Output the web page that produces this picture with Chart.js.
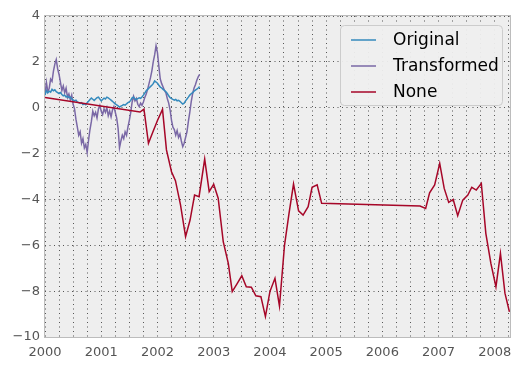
<!DOCTYPE html>
<html>
<head>
<meta charset="utf-8">
<script src="https://cdn.jsdelivr.net/npm/chart.js@4.4.1/dist/chart.umd.min.js"></script>
<style>
  html, body { margin: 0; padding: 0; background: #ffffff; }
  #wrap { width: 522px; height: 369px; position: relative; }
</style>
</head>
<body>
<div id="wrap"><canvas id="chart"></canvas></div>
<script>
// =============================
// DATOS
// =============================
const yearTicks = [2000, 2001, 2002, 2003, 2004, 2005, 2006, 2007, 2008];
const valueTicks = [-10, -8, -6, -4, -2, 0, 2, 4];
const seriesNames = ["Original", "Transformed", "None"];

// fechas (años decimales) de las series diarias
const dailyDates = [
  2000.000, 2000.025, 2000.050, 2000.075, 2000.100, 2000.125, 2000.150, 2000.175, 2000.200, 2000.225,
  2000.250, 2000.275, 2000.300, 2000.325, 2000.350, 2000.375, 2000.400, 2000.425, 2000.450, 2000.475,
  2000.500, 2000.525, 2000.550, 2000.575, 2000.600, 2000.625, 2000.650, 2000.675, 2000.700, 2000.725,
  2000.750, 2000.775, 2000.800, 2000.825, 2000.850, 2000.875, 2000.900, 2000.925, 2000.950, 2000.975,
  2001.000, 2001.025, 2001.050, 2001.075, 2001.100, 2001.125, 2001.150, 2001.175, 2001.200, 2001.225,
  2001.250, 2001.275, 2001.300, 2001.325, 2001.350, 2001.375, 2001.400, 2001.425, 2001.450, 2001.475,
  2001.500, 2001.525, 2001.550, 2001.575, 2001.600, 2001.625, 2001.650, 2001.675, 2001.700, 2001.725,
  2001.750, 2001.775, 2001.800, 2001.825, 2001.850, 2001.875, 2001.900, 2001.925, 2001.950, 2001.975,
  2002.000, 2002.025, 2002.050, 2002.075, 2002.100, 2002.125, 2002.150, 2002.175, 2002.200, 2002.225,
  2002.250, 2002.275, 2002.300, 2002.325, 2002.350, 2002.375, 2002.400, 2002.425, 2002.450, 2002.475,
  2002.500, 2002.525, 2002.550, 2002.575, 2002.600, 2002.625, 2002.650, 2002.675, 2002.700, 2002.725,
  2002.750
];

const originalValues = [
  0.55, 0.75, 0.65, 0.72, 0.68, 0.80, 0.74, 0.78, 0.70, 0.66,
  0.62, 0.66, 0.58, 0.52, 0.55, 0.47, 0.50, 0.44, 0.46, 0.38,
  0.34, 0.30, 0.33, 0.25, 0.22, 0.19, 0.22, 0.14, 0.17, 0.13,
  0.22, 0.28, 0.36, 0.42, 0.37, 0.32, 0.38, 0.44, 0.46, 0.38,
  0.30, 0.36, 0.42, 0.38, 0.46, 0.43, 0.38, 0.33, 0.28, 0.22,
  0.17, 0.12, 0.08, 0.03, 0.07, 0.10, 0.14, 0.11, 0.17, 0.22,
  0.25, 0.32, 0.43, 0.46, 0.38, 0.35, 0.40, 0.43, 0.41, 0.47,
  0.55, 0.64, 0.74, 0.80, 0.86, 0.92, 0.98, 1.05, 1.17, 1.12,
  1.07, 0.98, 0.90, 0.86, 0.80, 0.76, 0.70, 0.62, 0.52, 0.44,
  0.40, 0.36, 0.33, 0.36, 0.30, 0.32, 0.28, 0.22, 0.16, 0.20,
  0.30, 0.38, 0.46, 0.55, 0.61, 0.66, 0.72, 0.77, 0.81, 0.86,
  0.92
];

const transformedValues = [
  0.55, 1.10, 0.70, 0.85, 1.25, 1.15, 1.60, 1.90, 2.10, 1.70,
  1.45, 1.10, 0.75, 0.95, 0.65, 0.85, 0.45, 0.60, 0.35, 0.55,
  0.15, -0.05, -0.50, -0.85, -1.20, -1.05, -1.55, -1.35, -1.75, -1.60,
  -1.95, -1.40, -0.95, -0.60, -0.15, -0.35, -0.20, -0.45, -0.05, 0.10,
  -0.15, -0.30, -0.05, -0.20, 0.00, -0.35, -0.15, -0.40, -0.10, 0.05,
  -0.20, -0.45, -0.90, -1.75, -1.45, -1.20, -1.35, -1.05, -1.20, -0.85,
  -0.55, -0.20, 0.25, 0.50, 0.30, 0.40, 0.15, 0.05, 0.20, 0.10,
  0.25, 0.45, 0.60, 0.80, 1.05, 1.30, 1.60, 2.00, 2.30, 2.70,
  2.40, 1.80, 1.25, 1.05, 0.90, 0.75, 0.65, 0.40, 0.20, -0.10,
  -0.55, -0.85, -0.95, -1.20, -1.00, -1.30, -1.15, -1.45, -1.70, -1.55,
  -1.30, -1.05, -0.60, -0.20, 0.25, 0.60, 0.85, 1.00, 1.20, 1.35,
  1.45
];

// serie mensual (con huecos)
const monthlyDates = [
  2000.00, 2001.69, 2001.76, 2001.84, 2001.92, 2002.00, 2002.09, 2002.16, 2002.25, 2002.32,
  2002.41, 2002.50, 2002.58, 2002.66, 2002.74, 2002.84, 2002.92, 2003.00, 2003.08, 2003.17,
  2003.26, 2003.33, 2003.42, 2003.50, 2003.58, 2003.67, 2003.75, 2003.84, 2003.92, 2004.00,
  2004.09, 2004.17, 2004.26, 2004.34, 2004.42, 2004.51, 2004.59, 2004.68, 2004.75, 2004.84,
  2004.92, 2006.67, 2006.77, 2006.84, 2006.93, 2007.02, 2007.10, 2007.18, 2007.26, 2007.34,
  2007.43, 2007.52, 2007.59, 2007.67, 2007.76, 2007.84, 2007.93, 2008.02, 2008.10, 2008.18,
  2008.26
];

const noneValues = [
  0.45, -0.19, -0.06, -1.55, -1.05, -0.56, -0.07, -1.84, -2.79, -3.18,
  -4.24, -5.62, -4.90, -3.81, -3.88, -2.24, -3.66, -3.34, -3.95, -5.84,
  -6.79, -8.02, -7.66, -7.33, -7.81, -7.83, -8.20, -8.24, -9.11, -8.02,
  -7.44, -8.65, -5.99, -4.61, -3.33, -4.50, -4.68, -4.32, -3.47, -3.36,
  -4.17, -4.29, -4.39, -3.71, -3.37, -2.43, -3.52, -4.13, -4.00, -4.71,
  -4.03, -3.81, -3.47, -3.59, -3.30, -5.48, -6.79, -7.81, -6.35, -8.09,
  -8.90
];

const seriesColors = ["#348ABD", "#7A68A6", "#A60628"];

const toPoints = (xs, ys) => xs.map((x, i) => ({ x: x, y: ys[i] }));
const minusSign = (v) => (v < 0 ? "\u2212" + Math.abs(v) : String(v));

// =============================
// PLUGINS: fondo, marco y leyenda
// =============================
const axesFrame = {
  id: "axesFrame",
  beforeDraw(chart) {
    const { ctx, chartArea: a } = chart;
    ctx.save();
    ctx.fillStyle = "#eeeeee";
    ctx.fillRect(a.left, a.top, a.right - a.left, a.bottom - a.top);
    ctx.restore();
  },
  afterDatasetsDraw(chart) {
    const { ctx, chartArea: a } = chart;
    ctx.save();
    ctx.strokeStyle = "#bcbcbc";
    ctx.lineWidth = 1;
    ctx.strokeRect(a.left - 0.5, a.top - 0.5, a.right - a.left + 1, a.bottom - a.top + 1);
    ctx.restore();
  },
};

const boxLegend = {
  id: "boxLegend",
  afterDraw(chart) {
    const ctx = chart.ctx;
    ctx.save();
    const bx = 340.5, by = 25.5, bw = 162, bh = 80;
    ctx.beginPath();
    ctx.roundRect(bx, by, bw, bh, 4);
    ctx.fillStyle = "rgba(238,238,238,0.95)";
    ctx.fill();
    ctx.strokeStyle = "#cccccc";
    ctx.lineWidth = 1;
    ctx.stroke();
    ctx.font = "17px 'DejaVu Sans'";
    ctx.textBaseline = "middle";
    const rows = [40, 66, 92];
    seriesNames.forEach((name, i) => {
      ctx.strokeStyle = seriesColors[i];
      ctx.lineWidth = 1.5;
      ctx.beginPath();
      ctx.moveTo(351, rows[i]);
      ctx.lineTo(376, rows[i]);
      ctx.stroke();
      ctx.fillStyle = "#000000";
      ctx.fillText(name, 393, rows[i] + 1);
    });
    ctx.restore();
  },
};

// =============================
// GRÁFICO
// =============================
const gridStyle = {
  color: "#555555",
  lineWidth: 1,
  drawTicks: false,
};

new Chart(document.getElementById("chart"), {
  type: "line",
  data: {
    datasets: [
      {
        label: seriesNames[2],
        data: toPoints(monthlyDates, noneValues),
        borderColor: seriesColors[2],
        borderWidth: 1.5,
        order: 0,
      },
      {
        label: seriesNames[0],
        data: toPoints(dailyDates, originalValues),
        borderColor: seriesColors[0],
        borderWidth: 1.5,
        order: 1,
      },
      {
        label: seriesNames[1],
        data: toPoints(dailyDates, transformedValues),
        borderColor: seriesColors[1],
        borderWidth: 1.5,
        order: 2,
      },
    ],
  },
  options: {
    responsive: true,
    maintainAspectRatio: false,
    animation: false,
    layout: { padding: { left: 0, right: 12, top: 16, bottom: 0 } },
    elements: { point: { radius: 0 }, line: { tension: 0 } },
    plugins: { legend: { display: false }, tooltip: { enabled: false } },
    scales: {
      x: {
        type: "linear",
        min: yearTicks[0],
        max: 2008.27,
        afterFit: (s) => { s.height = 32; },
        border: { display: false, dash: [1, 3.5] },
        grid: gridStyle,
        ticks: {
          stepSize: 0.25,
          includeBounds: false,
          autoSkip: false,
          maxRotation: 0,
          padding: 8,
          color: "#555555",
          font: { family: "DejaVu Sans", size: 13 },
          callback: (v) => (yearTicks.includes(v) ? String(v) : ""),
        },
      },
      y: {
        min: valueTicks[0],
        max: valueTicks[valueTicks.length - 1],
        afterFit: (s) => { s.width = 45; },
        border: { display: false, dash: [1, 3.5] },
        grid: gridStyle,
        ticks: {
          stepSize: 2,
          padding: 5,
          color: "#555555",
          font: { family: "DejaVu Sans", size: 13 },
          callback: (v) => minusSign(v),
        },
      },
    },
  },
  plugins: [axesFrame, boxLegend],
});
</script>
</body>
</html>
